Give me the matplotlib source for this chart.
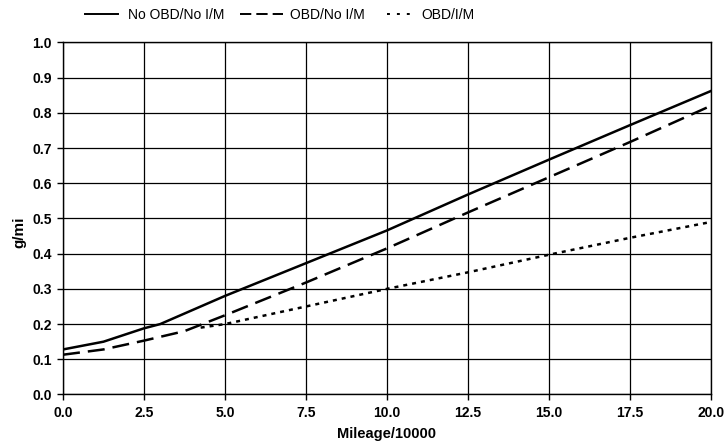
import matplotlib
matplotlib.use("Agg")
import matplotlib.pyplot as plt
from matplotlib.lines import Line2D

# Emission rate (g/mi) versus mileage (in units of 10,000 miles)
mileage_no_obd = [0.0, 1.25, 2.5, 3.0, 5.0, 7.5, 10.0, 12.5, 15.0, 17.5, 20.0]
no_obd_no_im = [0.128, 0.150, 0.188, 0.200, 0.280, 0.373, 0.466, 0.568, 0.667, 0.765, 0.862]

mileage_obd = [0.0, 1.25, 2.5, 3.75, 5.0, 7.5, 10.0, 12.5, 15.0, 17.5, 20.0]
obd_no_im = [0.113, 0.128, 0.153, 0.180, 0.225, 0.318, 0.415, 0.517, 0.617, 0.717, 0.820]

mileage_obd_im = [4.25, 5.0, 7.5, 10.0, 12.5, 15.0, 17.5, 20.0]
obd_im = [0.190, 0.200, 0.250, 0.300, 0.347, 0.397, 0.445, 0.490]

series_labels = ['No OBD/No I/M', 'OBD/No I/M', 'OBD/I/M']

x_ticks = [0.0, 2.5, 5.0, 7.5, 10.0, 12.5, 15.0, 17.5, 20.0]
y_ticks = [0.0, 0.1, 0.2, 0.3, 0.4, 0.5, 0.6, 0.7, 0.8, 0.9, 1.0]

plt.rcParams['font.family'] = ['Liberation Sans', 'DejaVu Sans']

fig = plt.figure(figsize=(7.26, 4.45), dpi=100)
ax = fig.add_axes([0.0868, 0.1135, 0.8922, 0.791])

ax.plot(mileage_no_obd, no_obd_no_im, color='black', lw=1.8)
ax.plot(mileage_obd, obd_no_im, color='black', lw=1.8, linestyle=(0, (6.8, 3.2)))
ax.plot(mileage_obd_im, obd_im, color='black', lw=1.8, linestyle=(0, (1.6, 2.0)))

ax.set_xlim(0, 20)
ax.set_ylim(0, 1.0)
ax.set_xticks(x_ticks)
ax.set_yticks(y_ticks)
ax.set_xticklabels([f"{v:.1f}" for v in x_ticks], fontweight='bold', fontsize=10)
ax.set_yticklabels([f"{v:.1f}" for v in y_ticks], fontweight='bold', fontsize=10)
ax.grid(True, color='black', lw=0.9)
ax.set_axisbelow(True)
for s in ax.spines.values():
    s.set_color('black')
    s.set_linewidth(1.0)
ax.tick_params(axis='both', direction='out', length=4, width=1, color='black', pad=4)

ax.set_xlabel('Mileage/10000', fontweight='bold', fontsize=10.5, labelpad=5)
ax.set_ylabel('g/mi', fontweight='bold', fontsize=11)
ax.yaxis.set_label_coords(-0.057, 0.462)

# Legend keys laid out along the top, each with its own key length
legend_keys = [
    (Line2D([], [], color='black', lw=1.4), series_labels[0], 85, 2.37, 0.72),
    (Line2D([], [], color='black', lw=1.4, linestyle=(0, (5.8, 2.6))), series_labels[1], 240, 3.1, 0.5),
    (Line2D([], [], color='black', lw=1.4, linestyle=(0, (1.5, 3.6))), series_labels[2], 387, 1.65, 0.86),
]
for handle, label, x_px, hlen, hpad in legend_keys:
    fig.legend(handles=[handle], labels=[label], loc='center left',
               bbox_to_anchor=(x_px / 726, 1 - 15 / 445), frameon=False,
               prop={'size': 10},
               handlelength=hlen, handletextpad=hpad, borderpad=0, borderaxespad=0)

fig.savefig('out.png', dpi=100)
